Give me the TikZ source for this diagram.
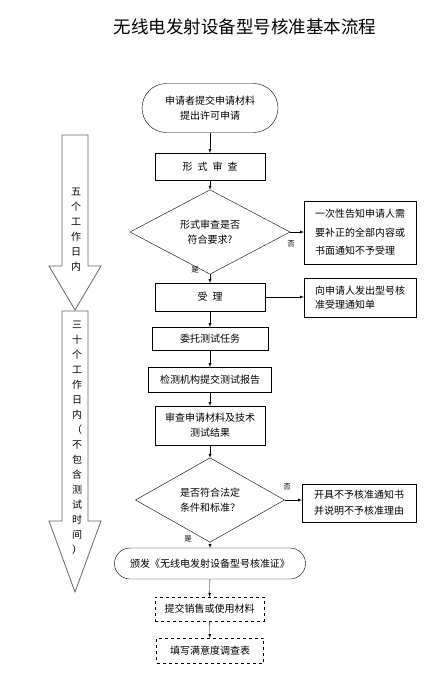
\documentclass[tikz,border=0pt]{standalone}
\usepackage{fontspec}
\setmainfont{Noto Sans CJK SC}
\usetikzlibrary{shapes.geometric,shapes.misc}

\begin{document}
\begin{tikzpicture}[x=1pt,y=-1pt,
  every node/.style={font=\fontsize{10}{15}\selectfont, inner sep=0pt, outer sep=0pt},
  box/.style={draw, rectangle, align=center},
  terminal/.style={draw, rounded rectangle, align=center},
  decision/.style={draw, diamond, align=center},
  note/.style={draw, rectangle, align=left},
  dashbox/.style={draw, dashed, rectangle, align=center},
  flow/.style={->, >=latex},
  tag/.style={font=\fontsize{7.5}{8}\selectfont},
  period/.style={draw=black!60, line width=0.8pt}]
\useasboundingbox (0,0) rectangle (445,678);

\node (title) at (245,27) {\fontsize{17.5}{20}\selectfont 无线电发射设备型号核准基本流程};

\node[terminal, minimum width=136, minimum height=49] (apply) at (210,108) {申请者提交申请材料\\提出许可申请};
\node[box, minimum width=110, minimum height=27] (check) at (210,166.5) {形\enspace{}式\enspace{}审\enspace{}查};
\node[decision, minimum width=160, minimum height=70] (ok1) at (210,232) {形式审查是否\\符合要求?};
\node[note, minimum width=112, minimum height=63, font=\fontsize{10}{18.5}\selectfont] (refuse) at (360,232.5) {一次性告知申请人需\\要补正的全部内容或\\书面通知不予受理};
\node[box, minimum width=110, minimum height=28] (accept) at (210,297) {受\enspace{}理};
\node[note, minimum width=112, minimum height=39, font=\fontsize{10}{14}\selectfont] (notice) at (360,297.5) {向申请人发出型号核\\准受理通知单};
\node[box, minimum width=116, minimum height=23] (entrust) at (210,338.5) {委托测试任务};
\node[box, minimum width=123, minimum height=25] (report) at (210,379.5) {检测机构提交测试报告};
\node[box, minimum width=110, minimum height=39] (review) at (210,425.5) {审查申请材料及技术\\测试结果};
\node[decision, minimum width=149, minimum height=75] (ok2) at (210,500) {是否符合法定\\条件和标准？};
\node[note, minimum width=114, minimum height=38, font=\fontsize{10}{16}\selectfont] (reject) at (359,503) {开具不予核准通知书\\并说明不予核准理由};
\node[terminal, minimum width=191, minimum height=31] (issue) at (210,563.5) {颁发《无线电发射设备型号核准证》};
\node[dashbox, minimum width=109, minimum height=24] (sales) at (209.5,609) {提交销售或使用材料};
\node[dashbox, minimum width=107, minimum height=25] (survey) at (210,650.5) {填写满意度调查表};

\draw[flow] (apply) -- (check);
\draw[flow] (check) -- (ok1);
\draw[flow] (ok1.east) -- (refuse.west |- ok1.east);
\draw[flow] (ok1) -- (accept);
\draw[flow] (accept) -- (notice.west |- accept.east);
\draw[flow] (accept) -- (entrust);
\draw[flow] (entrust) -- (report);
\draw[flow] (report) -- (review);
\draw[flow] (review) -- (ok2);
\draw[flow] (ok2.east) -- (reject.west |- ok2.east);
\draw[flow] (ok2) -- (issue);
\draw[flow] (issue) -- (sales);
\draw[flow] (sales) -- (survey);

\node[tag] (no1) at (291,244) {否};
\node[tag] (yes1) at (195,270) {是};
\node[tag] (no2) at (287,487) {否};
\node[tag] (yes2) at (188,539) {是};

\draw[period] (62,135) -- (88,135) -- (88,266) -- (101,266) -- (75,310) -- (49,266) -- (62,266) -- cycle;
\draw[period] (62,311) -- (88,311) -- (88,521) -- (101,521) -- (75,592) -- (49,521) -- (62,521) -- cycle;
\node[align=center] (five) at (76,229.5) {五\\个\\工\\作\\日\\内};
\node[align=center] (thirty) at (77,437.5) {三\\十\\个\\工\\作\\日\\内\\（\\不\\包\\含\\测\\试\\时\\间\\）};
\end{tikzpicture}
\end{document}
